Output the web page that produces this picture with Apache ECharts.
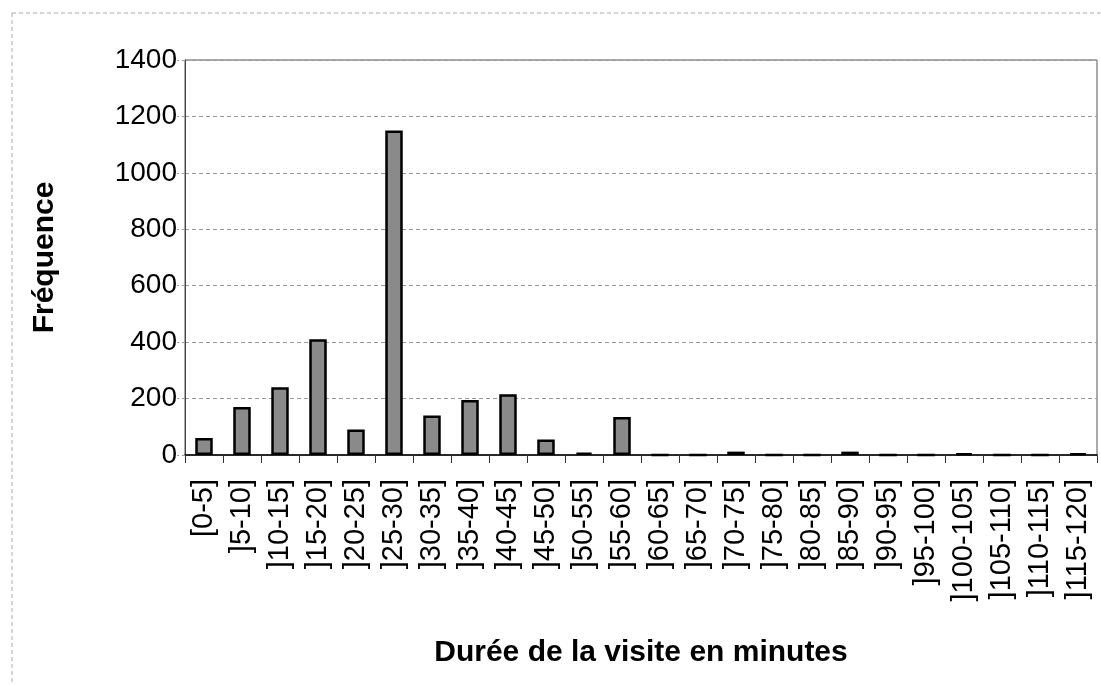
<!DOCTYPE html>
<html>
<head>
<meta charset="utf-8">
<script src="https://cdn.jsdelivr.net/npm/echarts@6/dist/echarts.min.js"></script>
<style>
  html, body { margin: 0; padding: 0; background: #fff; }
  #chart { width: 1101px; height: 685px; }
</style>
</head>
<body>
<div id="chart"></div>
<script>
// Visit duration classes (minutes)
const categories = [
  '[0-5]', ']5-10]', ']10-15]', ']15-20]', ']20-25]', ']25-30]',
  ']30-35]', ']35-40]', ']40-45]', ']45-50]', ']50-55]', ']55-60]',
  ']60-65]', ']65-70]', ']70-75]', ']75-80]', ']80-85]', ']85-90]',
  ']90-95]', ']95-100]', ']100-105]', ']105-110]', ']110-115]', ']115-120]'
];

// Number of visits per class
const frequencies = [
  60, 170, 240, 410, 90, 1150,
  140, 195, 215, 55, 8, 135,
  0, 0, 12, 0, 0, 12,
  0, 0, 6, 0, 0, 6
];

// Value-axis ticks
const yTicks = [0, 200, 400, 600, 800, 1000, 1200, 1400];

const yMin = yTicks[0];
const yMax = yTicks[yTicks.length - 1];
const yStep = yTicks[1] - yTicks[0];

const FONT = '"Liberation Sans", Arial, sans-serif';

const chart = echarts.init(document.getElementById('chart'), null, { renderer: 'canvas' });

chart.setOption({
  backgroundColor: '#ffffff',
  animation: false,
  grid: {
    left: 185, right: 4, top: 60, bottom: 230,
    show: true,
    borderColor: '#555',
    borderWidth: 1,
    backgroundColor: 'transparent'
  },
  graphic: [
    // dashed outer frame of the chart area
    { type: 'line', shape: { x1: 12, y1: 13, x2: 1101, y2: 13 },
      style: { stroke: '#aaa', lineWidth: 1, lineDash: [4, 3] }, silent: true },
    { type: 'line', shape: { x1: 12, y1: 13, x2: 12, y2: 685 },
      style: { stroke: '#aaa', lineWidth: 1, lineDash: [4, 3] }, silent: true }
  ],
  xAxis: {
    type: 'category',
    data: categories,
    name: 'Durée de la visite en minutes',
    nameLocation: 'middle',
    nameGap: 183,
    nameTextStyle: { fontFamily: FONT, fontSize: 30, fontWeight: 'bold', color: '#000' },
    axisLine: { show: true, lineStyle: { color: '#000', width: 1.5 } },
    axisTick: { show: true, alignWithLabel: false, length: 8, lineStyle: { color: '#333' } },
    axisLabel: {
      rotate: 90,
      interval: 0,
      margin: 24,
      fontFamily: FONT,
      fontSize: 29,
      color: '#000'
    },
    splitLine: { show: false }
  },
  yAxis: {
    type: 'value',
    min: yMin,
    max: yMax,
    interval: yStep,
    name: 'Fréquence',
    nameLocation: 'middle',
    nameGap: 125,
    nameRotate: 90,
    nameTextStyle: { fontFamily: FONT, fontSize: 30, fontWeight: 'bold', color: '#000' },
    axisLine: { show: true, lineStyle: { color: '#444', width: 1 } },
    axisTick: { show: true, length: 8, lineStyle: { color: '#999', type: [3, 3] } },
    axisLabel: {
      margin: 8,
      fontFamily: FONT,
      fontSize: 28,
      color: '#000',
      formatter: (v) => String(v)
    },
    splitLine: { show: true, lineStyle: { color: '#999', width: 1, type: [4, 3] } }
  },
  series: [{
    type: 'bar',
    data: frequencies,
    barWidth: '46%',
    itemStyle: {
      color: '#8a8a8a',
      borderColor: '#000',
      borderWidth: 2.5
    }
  }]
});
</script>
</body>
</html>
